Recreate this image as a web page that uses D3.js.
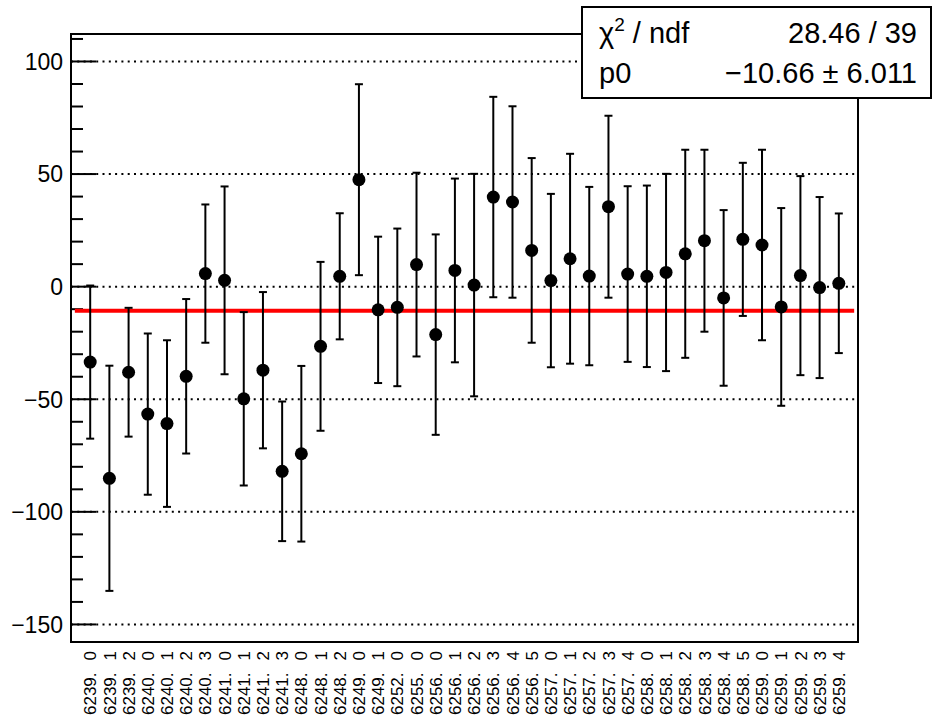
<!DOCTYPE html>
<html>
<head>
<meta charset="utf-8">
<script src="https://cdn.jsdelivr.net/npm/d3@7"></script>
<style>
  body { margin: 0; background: #fff; }
  svg { display: block; font-family: "Liberation Sans", Arial, sans-serif; }
</style>
</head>
<body>
<div id="chart"></div>
<script>
/* D3 graph with pol0 fit, ROOT style */
const width = 933, height = 716,
    margin = ({ top: 34, right: 75, bottom: 74, left: 71 });

// run labels, one per point
const runLabels = [
  "6239. 0", "6239. 1", "6239. 2", "6240. 0", "6240. 1", "6240. 2", "6240. 3", "6241. 0",
  "6241. 1", "6241. 2", "6241. 3", "6248. 0", "6248. 1", "6248. 2", "6249. 0", "6249. 1",
  "6252. 0", "6255. 0", "6256. 0", "6256. 1", "6256. 2", "6256. 3", "6256. 4", "6256. 5",
  "6257. 0", "6257. 1", "6257. 2", "6257. 3", "6257. 4", "6258. 0", "6258. 1", "6258. 2",
  "6258. 3", "6258. 4", "6258. 5", "6259. 0", "6259. 1", "6259. 2", "6259. 3", "6259. 4"
];
const values = [
  -33.5, -85.1, -38.0, -56.6, -60.8, -39.8, 5.8, 2.8,
  -49.8, -37.1, -82.0, -74.2, -26.5, 4.6, 47.5, -10.3,
  -9.2, 9.8, -21.3, 7.2, 0.7, 39.8, 37.6, 16.1,
  2.7, 12.4, 4.7, 35.5, 5.6, 4.6, 6.3, 14.6,
  20.4, -5.0, 21.0, 18.5, -9.0, 4.9, -0.4, 1.5
];
const errors = [
  34.0, 50.0, 28.6, 35.8, 37.0, 34.3, 30.7, 41.7,
  38.5, 34.7, 31.0, 39.0, 37.5, 28.0, 42.4, 32.5,
  35.0, 40.8, 44.5, 40.8, 49.4, 44.5, 42.5, 41.0,
  38.5, 46.6, 39.6, 40.4, 39.0, 40.3, 43.8, 46.2,
  40.4, 39.0, 34.0, 42.3, 43.9, 44.2, 40.2, 31.0
];
const yTicks = [-150, -100, -50, 0, 50, 100];
const fitValue = -10.66;
const fitRange = [0.2, 40.8];
const statsRows = [["χ2 / ndf", "28.46 / 39"], ["p0", "\u221210.66 \u00b1 6.011"]];

const data = values.map((v, i) => ({ i: i + 1, label: runLabels[i], v: v, e: errors[i] }));

const svg = d3.select("#chart")
    .append("svg")
    .attr("width", width)
    .attr("height", height);

let x = d3.scaleLinear()
    .domain([0, data.length + 1])
    .range([margin.left, width - margin.right]);

let y = d3.scaleLinear()
    .domain([-157.8, 112.2])
    .range([height - margin.bottom, margin.top]);

// dotted grid
svg.append("g")
  .selectAll("line")
  .data(yTicks)
  .join("line")
    .attr("x1", x.range()[0])
    .attr("x2", x.range()[1])
    .attr("y1", d => y(d))
    .attr("y2", d => y(d))
    .attr("stroke", "#000")
    .attr("stroke-width", 2)
    .attr("stroke-dasharray", "2 4.3");

// ticks inside the frame
const minor = d3.range(-150, 111, 10);
svg.append("g")
  .selectAll("line")
  .data(minor)
  .join("line")
    .attr("x1", margin.left)
    .attr("x2", d => margin.left + (d % 50 === 0 ? 25 : 12))
    .attr("y1", d => y(d))
    .attr("y2", d => y(d))
    .attr("stroke", "#000")
    .attr("stroke-width", 2);

svg.append("g")
  .selectAll("text")
  .data(yTicks)
  .join("text")
    .attr("x", margin.left - 8)
    .attr("y", d => y(d))
    .attr("dy", "0.36em")
    .attr("text-anchor", "end")
    .attr("font-size", 23)
    .text(d => d < 0 ? "\u2212" + Math.abs(d) : d);

// fit line
svg.append("line")
    .attr("x1", x(fitRange[0]))
    .attr("x2", x(fitRange[1]))
    .attr("y1", y(fitValue))
    .attr("y2", y(fitValue))
    .attr("stroke", "#ff0000")
    .attr("stroke-width", 4);

// error bars
const bars = svg.append("g").attr("stroke", "#000").attr("stroke-width", 2);
bars.selectAll(".bar")
  .data(data)
  .join("line")
    .attr("x1", d => x(d.i))
    .attr("x2", d => x(d.i))
    .attr("y1", d => y(d.v + d.e))
    .attr("y2", d => y(d.v - d.e));
bars.selectAll(".capTop")
  .data(data)
  .join("line")
    .attr("x1", d => x(d.i) - 4)
    .attr("x2", d => x(d.i) + 4)
    .attr("y1", d => y(d.v + d.e))
    .attr("y2", d => y(d.v + d.e));
bars.selectAll(".capBot")
  .data(data)
  .join("line")
    .attr("x1", d => x(d.i) - 4)
    .attr("x2", d => x(d.i) + 4)
    .attr("y1", d => y(d.v - d.e))
    .attr("y2", d => y(d.v - d.e));

svg.append("g")
  .selectAll("circle")
  .data(data)
  .join("circle")
    .attr("cx", d => x(d.i))
    .attr("cy", d => y(d.v))
    .attr("r", 6.5)
    .attr("fill", "#000");

// frame
svg.append("rect")
    .attr("x", margin.left)
    .attr("y", margin.top)
    .attr("width", x.range()[1] - margin.left)
    .attr("height", y.range()[0] - margin.top)
    .attr("fill", "none")
    .attr("stroke", "#000")
    .attr("stroke-width", 2);

// x labels, vertical; the sub-run number sits a bit apart
const xl = svg.append("g")
  .selectAll("text")
  .data(data)
  .join("text")
    .attr("transform", d => `translate(${x(d.i)},${height - margin.bottom + 9}) rotate(-90)`)
    .attr("dy", "0.36em")
    .attr("text-anchor", "end")
    .attr("font-size", 17);
xl.append("tspan").text(d => d.label.split(" ")[0]);
xl.append("tspan").attr("dx", 12).text(d => d.label.split(" ")[1]);

// stats box
const box = svg.append("g");
box.append("rect")
    .attr("x", 582)
    .attr("y", 7)
    .attr("width", 349)
    .attr("height", 91)
    .attr("fill", "#fff")
    .attr("stroke", "#000")
    .attr("stroke-width", 2);

statsRows.forEach((r, k) => {
    let t = box.append("text")
        .attr("x", 599)
        .attr("y", 43 + k * 40)
        .attr("font-size", 29);
    if (k === 0) {
        t.append("tspan").text("χ");
        t.append("tspan").attr("font-size", 19).attr("dy", -12).text("2");
        t.append("tspan").attr("dy", 12).text(" / ndf");
    } else {
        t.text(r[0]);
    }
    box.append("text")
        .attr("x", 917)
        .attr("y", 43 + k * 40)
        .attr("text-anchor", "end")
        .attr("font-size", 29)
        .text(r[1]);
});
</script>
</body>
</html>
